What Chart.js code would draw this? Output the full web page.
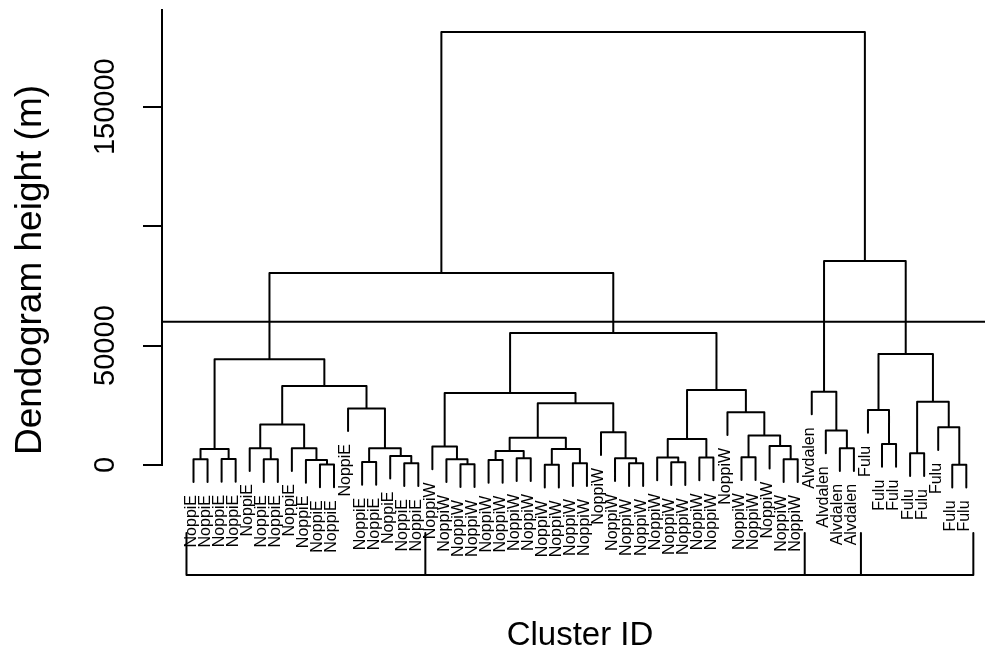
<!DOCTYPE html>
<html>
<head>
<meta charset="utf-8">
<script src="https://cdn.jsdelivr.net/npm/chart.js@4.4.1/dist/chart.umd.min.js"></script>
<style>
  html, body { margin: 0; padding: 0; background: #fff; overflow: hidden; }
  canvas { display: block; }
</style>
</head>
<body>
<canvas id="dendro" width="985" height="648"></canvas>
<script>
// leaf groups, left to right as drawn
const groupNames = ['NoppiE', 'NoppiW', 'Alvdalen', 'Fulu'];
const groupSizes = [17, 27, 4, 8];

// merge table like R hclust: negative = leaf number, positive = earlier merge row
const merges = [
  [-1, -2], [-3, -4], [1, 2], [-6, -7], [-5, 4], [-10, -11], [-9, 6], [-8, 7],
  [5, 8], [-13, -14], [-16, -17], [-15, 11], [10, 12], [-12, 13], [9, 14], [3, 15],
  [-20, -21], [-19, 17], [-18, 18], [-22, -23], [-24, -25], [20, 21], [-26, -27], [-28, -29],
  [23, 24], [22, 25], [-32, -33], [-31, 27], [-30, 28], [26, 29], [19, 30], [-35, -36],
  [-34, 32], [-37, -38], [33, 34], [-40, -41], [-43, -44], [-42, 37], [36, 38], [-39, 39],
  [35, 40], [31, 41],
  [-47, -48], [-46, 43], [-45, 44],
  [-50, -51], [-49, 46], [-52, -53], [-55, -56], [-54, 49], [48, 50], [47, 51],
  [16, 42], [45, 52], [53, 54]
];
// merge heights (m)
const mergeHeights = [
  2400, 2500, 6700, 2400, 7000, 200, 2100, 7000,
  17000, 1250, 700, 3800, 7000, 23700, 33100, 44300,
  300, 2400, 7700, 2100, 2800, 5900, 100, 700,
  6700, 11400, 700, 2800, 13700, 25800, 30100, 1100,
  3100, 3100, 10900, 3200, 2400, 8000, 12300, 22100,
  31400, 55300,
  7000, 14400, 30700,
  8800, 23000, 4900, 100, 15800, 26500, 46500,
  80400, 85400, 181300
];

const cutHeight = 60000;
const leafHang = 9500;
const yTicks = [0, 50000, 100000, 150000];
const yTickLabels = ['0', '50000', '', '150000'];

// leaf labels from the groups
const leafLabels = [];
groupNames.forEach((g, i) => {
  for (let k = 0; k < groupSizes[i]; k++) leafLabels.push(g);
});
const nLeaves = leafLabels.length;

// walk the merges: node x = middle of its two children
const nodeX = [];
const leafBottom = [];
const treePts = [];
merges.forEach(([a, b], i) => {
  const h = mergeHeights[i];
  const xa = a < 0 ? -a : nodeX[a - 1];
  const xb = b < 0 ? -b : nodeX[b - 1];
  const ya = a < 0 ? h - leafHang : mergeHeights[a - 1];
  const yb = b < 0 ? h - leafHang : mergeHeights[b - 1];
  if (a < 0) leafBottom[-a] = ya;
  if (b < 0) leafBottom[-b] = yb;
  nodeX[i] = (xa + xb) / 2;
  treePts.push({x: xa, y: ya}, {x: xa, y: h}, {x: xb, y: h}, {x: xb, y: yb}, {x: xb, y: null});
});

// bracket under the labels, one box per group
const groupEdges = [0.5];
groupSizes.forEach(s => groupEdges.push(groupEdges[groupEdges.length - 1] + s));
const bracketLow = -46000, bracketHigh = -28500;
const bracketPts = [{x: groupEdges[0], y: bracketLow}, {x: groupEdges[groupEdges.length - 1], y: bracketLow}, {x: null, y: null}];
groupEdges.forEach(e => {
  bracketPts.push({x: e, y: bracketLow}, {x: e, y: bracketHigh}, {x: e, y: null});
});

const xMin = -1.242, xMax = 57.33;

// texts drawn like base R: rotated tick labels, leaf labels, axis titles
const rText = {
  id: 'rText',
  afterDraw(chart) {
    const {ctx} = chart;
    const x = chart.scales.x, y = chart.scales.y;
    ctx.save();
    ctx.fillStyle = '#000';

    ctx.font = '16px "Liberation Sans", Arial, sans-serif';
    ctx.textAlign = 'right';
    ctx.textBaseline = 'middle';
    leafLabels.forEach((lab, i) => {
      const px = x.getPixelForValue(i + 1);
      const py = y.getPixelForValue(leafBottom[i + 1]) + 13;
      ctx.save();
      ctx.translate(px - 2, py);
      ctx.rotate(-Math.PI / 2);
      ctx.fillText(lab, 0, 0);
      ctx.restore();
    });

    ctx.font = '29px "Liberation Sans", Arial, sans-serif';
    ctx.textAlign = 'center';
    ctx.textBaseline = 'alphabetic';
    yTicks.forEach((v, i) => {
      if (!yTickLabels[i]) return;
      ctx.save();
      ctx.translate(114, y.getPixelForValue(v));
      ctx.rotate(-Math.PI / 2);
      ctx.fillText(yTickLabels[i], 0, 0);
      ctx.restore();
    });

    ctx.font = '37px "Liberation Sans", Arial, sans-serif';
    ctx.save();
    ctx.translate(41, 270);
    ctx.rotate(-Math.PI / 2);
    ctx.fillText('Dendogram height (m)', 0, 0);
    ctx.restore();

    ctx.font = '33px "Liberation Sans", Arial, sans-serif';
    ctx.fillText('Cluster ID', 580, 645);
    ctx.restore();
  }
};

new Chart(document.getElementById('dendro'), {
  type: 'line',
  data: {
    datasets: [
      { data: treePts, clip: false },
      { data: [{x: xMin, y: cutHeight}, {x: xMax, y: cutHeight}] },
      { data: bracketPts, clip: false }
    ]
  },
  options: {
    responsive: false,
    animation: false,
    devicePixelRatio: 1,
    spanGaps: false,
    layout: { padding: { top: 10, bottom: 183, left: 0, right: 0 } },
    elements: {
      point: { radius: 0, hoverRadius: 0 },
      line: { borderColor: '#000', borderWidth: 2, tension: 0, borderCapStyle: 'round', borderJoinStyle: 'round', fill: false }
    },
    plugins: { legend: { display: false }, tooltip: { enabled: false } },
    scales: {
      x: { type: 'linear', min: xMin, max: xMax, display: false },
      y: {
        type: 'linear',
        min: 0,
        max: 190480,
        ticks: { display: false },
        grid: { drawOnChartArea: false, drawTicks: true, tickLength: 19, color: '#000', lineWidth: 2 },
        border: { display: true, color: '#000', width: 2 },
        afterBuildTicks: scale => { scale.ticks = yTicks.map(v => ({value: v})); },
        afterFit: scale => { scale.width = 162; }
      }
    }
  },
  plugins: [rText]
});
</script>
</body>
</html>
